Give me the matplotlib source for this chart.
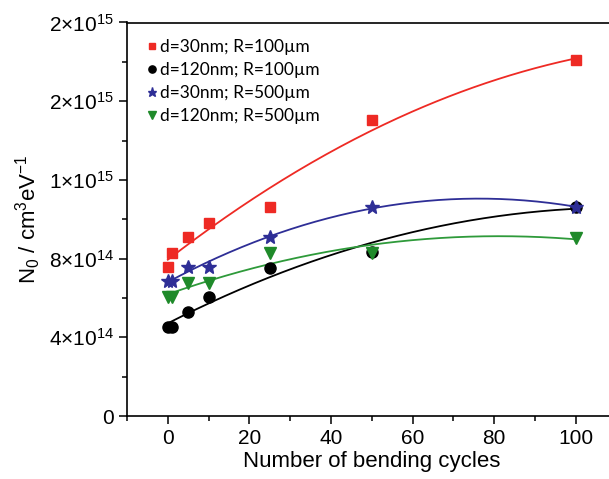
import matplotlib
matplotlib.use("Agg")
import matplotlib.pyplot as plt
from matplotlib.ticker import MultipleLocator
import numpy as np

plt.rcParams['font.family'] = ['Liberation Sans', 'DejaVu Sans']
plt.rcParams['mathtext.fontset'] = 'custom'
plt.rcParams['mathtext.rm'] = 'Liberation Sans'
plt.rcParams['mathtext.it'] = 'Liberation Sans:italic'
plt.rcParams['mathtext.default'] = 'regular'

cycles = [0, 1, 5, 10, 25, 50, 100]
red_vals = [7.57e14, 8.3e14, 9.1e14, 9.81e14, 1.062e15, 1.505e15, 1.81e15]
black_vals = [4.52e14, 4.52e14, 5.3e14, 6.06e14, 7.52e14, 8.34e14, 1.062e15]
blue_vals = [6.86e14, 6.86e14, 7.59e14, 7.57e14, 9.11e14, 1.062e15, 1.062e15]
green_vals = [6.06e14, 6.06e14, 6.76e14, 6.76e14, 8.3e14, 8.28e14, 9.05e14]

labels = ['d=30nm; R=100µm', 'd=120nm; R=100µm', 'd=30nm; R=500µm', 'd=120nm; R=500µm']
y_ticks = [0, 4e14, 8e14, 1.2e15, 1.6e15, 2e15]
y_ticklabels = ['0', r'4×10$^{14}$', r'8×10$^{14}$', r'1×10$^{15}$', r'2×10$^{15}$', r'2×10$^{15}$']

series = [
    (red_vals, 's', '#ee2a24', '#ee2a24', 7.5),
    (black_vals, 'o', 'black', 'black', 8),
    (blue_vals, '*', '#2e2e96', '#2e2e96', 10),
    (green_vals, 'v', '#1f8a2a', '#2e9a3a', 9),
]

fig = plt.figure(figsize=(6.09, 4.79), dpi=100)
ax = fig.add_axes([127 / 609, 1 - 416 / 479, (616.7 - 127) / 609, (416 - 22.5) / 479])

xs = np.linspace(0, 100, 200)
handles = []
for (vals, mk, mcol, lcol, ms), lab in zip(series, labels):
    h, = ax.plot(cycles, vals, linestyle='none', marker=mk, color=mcol, markersize=ms,
                 label=lab, zorder=3)
    handles.append(h)
    coef = np.polyfit(cycles, vals, 2)
    ax.plot(xs, np.polyval(coef, xs), color=lcol, lw=1.3, zorder=2)

ax.set_xlim(-10, 110)
ax.set_ylim(0, 2e15)
ax.set_yticks(y_ticks)
ax.set_yticklabels(y_ticklabels)
ax.set_xticks([0, 20, 40, 60, 80, 100])
ax.xaxis.set_minor_locator(MultipleLocator(10))
ax.yaxis.set_minor_locator(MultipleLocator(2e14))
ax.tick_params(axis='both', which='major', direction='out', length=6, width=1.1, labelsize=15)
ax.tick_params(axis='both', which='minor', direction='out', length=3.5, width=1.1)
for s in ax.spines.values():
    s.set_linewidth(1.2)
ax.spines['right'].set_visible(False)

ax.set_xlabel('Number of bending cycles', fontsize=16, labelpad=2)
ax.set_ylabel(r'N$_0$ / cm$^3$eV$^{-1}$', fontsize=16, labelpad=4)

leg = ax.legend(handles=handles, loc='upper left', bbox_to_anchor=(0.02, 0.985),
                frameon=False, markerscale=0.65, handlelength=0.6, handletextpad=0.15,
                labelspacing=0.4, borderaxespad=0.2,
                prop={'family': 'Lato', 'size': 12.5})

fig.savefig('out.png', dpi=100)
